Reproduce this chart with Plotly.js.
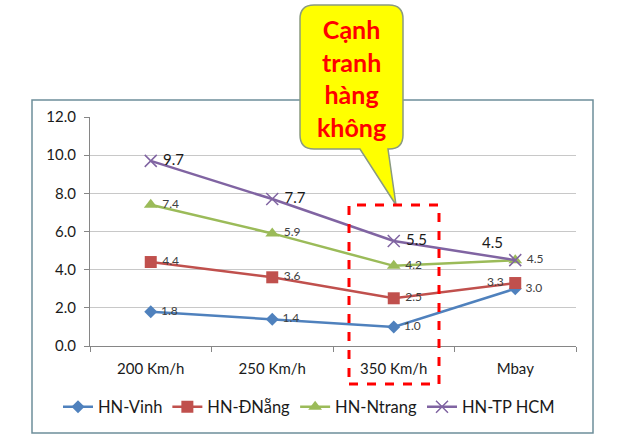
<!DOCTYPE html>
<html><head><meta charset="utf-8">
<script src="https://cdn.plot.ly/plotly-3.0.1.min.js"></script>
<style>html,body{margin:0;padding:0;background:#fff}#chart{width:624px;height:436px}</style>
</head><body><div id="chart"></div>
<script>
const categories = ["200 Km/h", "250 Km/h", "350 Km/h", "Mbay"];
const seriesNames = ["HN-Vinh", "HN-ĐNẵng", "HN-Ntrang", "HN-TP HCM"];
const vinh = [1.8, 1.4, 1.0, 3.0];
const dnang = [4.4, 3.6, 2.5, 3.3];
const ntrang = [7.4, 5.9, 4.2, 4.5];
const hcm = [9.7, 7.7, 5.5, 4.5];
const yTicks = [0, 2, 4, 6, 8, 10, 12];
const calloutText = "Cạnh<br>tranh<br>hàng<br>không";

const W = 624, H = 436;
const M = {l: 90, r: 48, t: 117, b: 90};
const pw = W - M.l - M.r, ph = H - M.t - M.b;
const px = x => (x - M.l) / pw;
const py = y => (H - M.b - y) / ph;

const FONT = "Lato, 'Open Sans', sans-serif";
const colors = ["#4f81bd", "#c0504d", "#9bbb59", "#8064a2"];
const symbols = ["diamond", "square", "triangle-up", "x-thin"];
const sizes = [10, 12, 12, 12];
const data = [vinh, dnang, ntrang, hcm];
const positions = [
  ["middle right","middle right","middle right","middle right"],
  ["middle right","middle right","middle right","middle left"],
  ["middle right","middle right","middle right","middle right"],
  ["middle right","middle right","middle right","top left"]
];

const traces = data.map((vals, i) => ({
  type: "scatter",
  mode: "lines+markers+text",
  name: seriesNames[i],
  x: categories,
  y: vals,
  text: vals.map(v => " " + v.toFixed(1) + " "),
  textposition: positions[i],
  textfont: i === 3 ? {family: FONT, size: 15, color: "#1a1a1a"} : {family: FONT, size: 12, color: "#404040"},
  line: {color: colors[i], width: 2.5},
  marker: {symbol: symbols[i], size: sizes[i], color: colors[i], line: {color: colors[i], width: i === 3 ? 1.5 : 0}},
  cliponaxis: false
}));

const bx0 = 300, bx1 = 403, by0 = 5, by1 = 149, r = 14;
const P = (x, y) => px(x) + "," + py(y);
const boxPath = "M" + P(bx0 + r, by0) + " L" + P(bx1 - r, by0) + " Q" + P(bx1, by0) + " " + P(bx1, by0 + r) +
  " L" + P(bx1, by1 - r) + " Q" + P(bx1, by1) + " " + P(bx1 - r, by1) +
  " L" + P(388, by1) + " L" + P(396, 205) + " L" + P(360, by1) +
  " L" + P(bx0 + r, by1) + " Q" + P(bx0, by1) + " " + P(bx0, by1 - r) +
  " L" + P(bx0, by0 + r) + " Q" + P(bx0, by0) + " " + P(bx0 + r, by0) + " Z";

const layout = {
  width: W, height: H,
  margin: M,
  paper_bgcolor: "#fff", plot_bgcolor: "#fff",
  font: {family: FONT, size: 13, color: "#1a1a1a"},
  showlegend: true,
  legend: {orientation: "h", x: px(58), xanchor: "left",
    y: py(407), yanchor: "middle", bgcolor: "rgba(0,0,0,0)",
    font: {family: FONT, size: 16.5, color: "#1a1a1a"}, traceorder: "normal", itemwidth: 30, tracegroupgap: 0},
  xaxis: {type: "category", range: [-0.5, 3.5], showgrid: false, showline: true, linecolor: "#868686", linewidth: 1,
    ticks: "outside", tickson: "boundaries", ticklen: 5, tickcolor: "#868686", ticklabelstandoff: 9,
    tickfont: {family: FONT, size: 15, color: "#1a1a1a"}, fixedrange: true, zeroline: false},
  yaxis: {range: [0, 12], tickvals: yTicks, ticktext: yTicks.map(v => v.toFixed(1)),
    showgrid: true, gridcolor: "#c8c8c8", gridwidth: 1, showline: true, linecolor: "#868686",
    ticks: "outside", ticklen: 5, tickcolor: "#868686", zeroline: false, ticklabelstandoff: 5,
    tickfont: {family: FONT, size: 15, color: "#1a1a1a"}, fixedrange: true},
  shapes: [
    {type: "rect", xref: "paper", yref: "paper", x0: px(32), x1: px(593), y0: py(433), y1: py(100),
      line: {color: "#6e8e9a", width: 1.5}, fillcolor: "rgba(0,0,0,0)", layer: "below"},
    {type: "path", xref: "paper", yref: "paper", path: boxPath, fillcolor: "#ffff00",
      line: {color: "#8a9a80", width: 1.5}, layer: "above"},
    {type: "rect", xref: "paper", yref: "paper", x0: px(349), x1: px(439), y0: py(384), y1: py(205),
      line: {color: "#ff0000", width: 3, dash: "dash"}, fillcolor: "rgba(0,0,0,0)", layer: "above"}
  ],
  annotations: [
    {xref: "paper", yref: "paper", x: px(351), y: py(78), text: calloutText, showarrow: false,
      font: {family: FONT, size: 25, color: "#ff0000", weight: "bold"}, align: "center",
      xanchor: "center", yanchor: "middle"}
  ]
};

Plotly.newPlot("chart", traces, layout, {displayModeBar: false, staticPlot: true});
</script></body></html>
